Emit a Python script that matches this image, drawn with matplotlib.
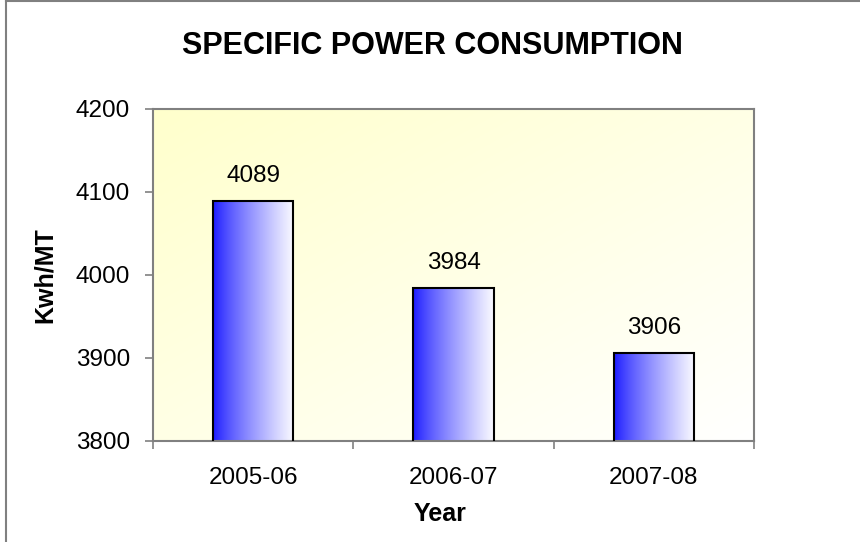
import numpy as np
import matplotlib
matplotlib.use("Agg")
import matplotlib.pyplot as plt
from matplotlib.lines import Line2D

plt.rcParams['font.family'] = ['Liberation Sans', 'DejaVu Sans']

# data
years = ["2005-06", "2006-07", "2007-08"]
kwh_per_mt = [4089, 3984, 3906]
y_ticks = [3800, 3900, 4000, 4100, 4200]

fig = plt.figure(figsize=(8.6, 5.42), dpi=100)
ax = fig.add_axes([153/860, 101/542, 601/860, 332/542])

x = np.arange(len(years))
bars = ax.bar(x, kwh_per_mt, width=0.4, facecolor="none", edgecolor="black",
              linewidth=1.5, zorder=3)

ax.set_xlim(-0.5, len(years) - 0.5)
ax.set_ylim(3800, 4200)

# plot area background: pale yellow top-left fading to white bottom-right
gx, gy = np.meshgrid(np.linspace(0, 1, 200), np.linspace(0, 1, 200))
t = np.clip((gx + gy) / 2, 0, 1)
bg = np.zeros((200, 200, 3))
bg[..., 0] = 1.0
bg[..., 1] = 1.0
bg[..., 2] = (204 + (255 - 204) * t) / 255
ax.imshow(bg, extent=[0, 1, 0, 1], transform=ax.transAxes, aspect="auto",
          origin="upper", zorder=0)

# bars: blue on the left fading to white on the right
g = np.linspace(0, 1, 100) ** 0.8
grad = np.zeros((1, 100, 3))
grad[0, :, 0] = (25 + (250 - 25) * g) / 255
grad[0, :, 1] = (25 + (250 - 25) * g) / 255
grad[0, :, 2] = 1.0
y0 = ax.get_ylim()[0]
for b in bars:
    ax.imshow(grad, extent=[b.get_x(), b.get_x() + b.get_width(), y0, b.get_height()],
              aspect="auto", zorder=2)
ax.set_xlim(-0.5, len(years) - 0.5)
ax.set_ylim(3800, 4200)

for xi, v in zip(x, kwh_per_mt):
    ax.annotate(str(v), (xi, v), xytext=(0, 10), textcoords="offset points",
                ha="center", va="bottom", fontsize=17.5)

ax.set_yticks(y_ticks)
ax.set_xticks(np.arange(len(years) + 1) - 0.5, minor=False)
ax.set_xticklabels([])
ax.set_xticks(x, minor=True)
ax.set_xticklabels(years, minor=True)
ax.tick_params(axis="x", which="minor", length=0, pad=19, labelsize=17.5)
ax.tick_params(axis="x", which="major", length=6, width=1.2, color="#808080",
               direction="out")
ax.tick_params(axis="y", length=5.5, width=1.2, color="#808080", direction="out",
               pad=11, labelsize=17.5)

for s in ax.spines.values():
    s.set_color("#808080")
    s.set_linewidth(1.5)

ax.set_ylabel("Kwh/MT", fontsize=18, fontweight="bold", labelpad=14)
ax.yaxis.set_label_coords(-0.16, 0.5)
fig.text(440/860, 1 - 514/542, "Year", ha="center", va="center",
         fontsize=18, fontweight="bold")
fig.text(432/860, 1 - 46/542, "SPECIFIC POWER CONSUMPTION", ha="center",
         va="center", fontsize=22, fontweight="bold")

# chart frame (left and top edges visible)
fig.add_artist(Line2D([6/860, 6/860], [0, 1 - 1/542], color="#808080", lw=1.5))
fig.add_artist(Line2D([6/860, 1], [1 - 1/542, 1 - 1/542], color="#808080", lw=1.5))

fig.savefig("out.png", dpi=100)
